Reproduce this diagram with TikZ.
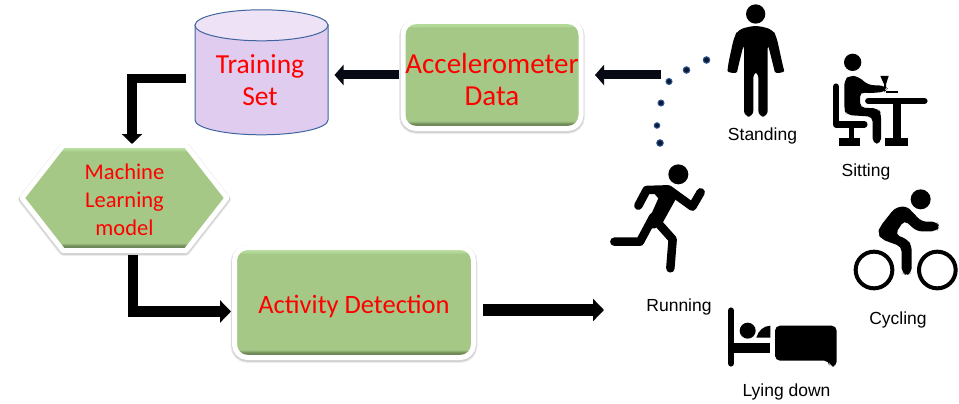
\documentclass[tikz,border=0pt]{standalone}
\usepackage{fontspec}
\setmainfont{Liberation Sans}
\newfontfamily\calib{Carlito}
\usetikzlibrary{arrows.meta,calc,shapes.symbols}
\definecolor{boxgreen}{HTML}{A5C887}
\definecolor{boxtop}{HTML}{B4DA9A}
\definecolor{boxbot}{HTML}{6F8A58}
\definecolor{cylbody}{HTML}{E0CCEE}
\definecolor{cyltop}{HTML}{EEE2F7}
\definecolor{cylline}{HTML}{3F65A0}
\definecolor{txtred}{HTML}{FF0000}
\definecolor{dotfill}{HTML}{0B1A33}
\definecolor{dotline}{HTML}{2F5597}
\definecolor{navyblack}{HTML}{070A14}
\pgfdeclareverticalshading{gbox}{100bp}{color(0bp)=(boxbot); color(27.2bp)=(boxbot); color(28.6bp)=(boxgreen); color(72.2bp)=(boxgreen); color(73bp)=(boxtop); color(100bp)=(boxtop)}
\tikzset{
  panel/.style={draw=white,line width=5pt,line join=round,shading=gbox,inner sep=0pt,outer sep=0pt,align=center,text=txtred,
    preaction={draw=black!7,line width=8pt,transform canvas={yshift=-1.5pt}},
    preaction={draw=black!18,line width=6.2pt,transform canvas={yshift=-1.2pt}}},
  rbox/.style={panel,rectangle,rounded corners=13pt},
  hexbox/.style={panel,signal,signal to=west and east,signal pointer angle=104,
     minimum width=205pt,minimum height=105pt},
  conn/.style={draw=black,line join=miter,-{Triangle[length=11pt,width=22pt]}},
  conndark/.style={draw=navyblack,line width=9pt,-{Triangle[length=9pt,width=20pt]}},
  dotmark/.style={circle,draw=dotline,fill=dotfill,line width=1pt,minimum size=6.5pt,inner sep=0pt},
  ico/.style={fill=black,draw=none},
  limb/.style={draw=black,line cap=round,line join=round,fill=none},
  lab/.style={font=\fontsize{17.5}{20}\selectfont,inner sep=0pt},
}
\begin{document}
\begin{tikzpicture}[x=1pt,y=-1pt]
\useasboundingbox (0,0) rectangle (959,404);
% cylinder
\fill[cylbody,draw=cylline,line width=1pt] (195,25) -- (195,120) arc[x radius=66.5,y radius=14.8,start angle=180,end angle=0] -- (328,25) -- cycle;
\fill[cyltop,draw=cylline,line width=1pt] (261.5,25.3) ellipse[x radius=66.5,y radius=15.5];
\node[align=center,text=txtred,font=\calib\fontsize{27.5}{31.5}\selectfont,minimum width=133pt,minimum height=110pt,inner sep=0pt,outer sep=0pt] (train) at (260,80) {Training\\Set};
% boxes
\node[rbox,minimum width=178pt,minimum height=107pt,font=\calib\fontsize{29}{32}\selectfont] (acc) at (492,75) {\rule{0pt}{29pt}Accelerometer\\Data};
\node[rbox,minimum width=239pt,minimum height=110pt,font=\calib\fontsize{26.5}{32}\selectfont] (act) at (354,302.5) {\rule{0pt}{26pt}Activity Detection};
\node[hexbox,font=\calib\fontsize{22.5}{28}\selectfont] (ml) at (124.5,198) {\rule{0pt}{18.6pt}Machine\\Learning\\model};
% connectors
\coordinate (dotEnd) at (661,75);
\coordinate (runIn) at (604,310);
\coordinate (mlTop) at (132,144);
\coordinate (mlBot) at (133,255);
\draw[conndark,shorten >=14pt] (dotEnd) -- (acc.east);
\draw[conndark,shorten >=8pt,shorten <=4pt] (acc.west) -- (train.east |- acc.west);
\draw[conn,line width=9.5pt,-{Triangle[length=10pt,width=20pt]}] ($(train.west)+(-7.5,-1.5)$) -| (mlTop);
\draw[conn,line width=10.5pt,shorten >=3.5pt] (mlBot) |- ($(act.west)+(0,9)$);
\draw[conn,line width=11.5pt] ($(act.east)+(9.5,7.5)$) -- (runIn);
% dots
\node[dotmark] (d1) at (706.5,60) {};
\node[dotmark] (d2) at (686.5,70) {};
\node[dotmark,minimum size=6pt] (d3) at (669,81.5) {};
\node[dotmark,minimum size=6pt] (d4) at (661,103) {};
\node[dotmark,minimum size=5.5pt] (d5) at (657,125.5) {};
\node[dotmark] (d6) at (660,143) {};
% standing
\begin{scope}[shift={(590,0)},scale=1/3]
 \fill[ico] (497,42) circle[radius=29];
 \fill[ico,rounded corners=6pt] (497,76) -- (445,88) -- (432,112) -- (414,195) .. controls (412,218) and (440,222) .. (445,198) -- (462,130) -- (462,350) -- (490,350) -- (490,215) -- (505,215) -- (505,350) -- (533,350) -- (533,130) -- (550,198) .. controls (556,222) and (584,218) .. (578,195) -- (560,112) -- (548,88) -- cycle;
\end{scope}
% sitting
\begin{scope}[shift={(825,45)},scale=1/3]
 \fill[ico] (83,52) circle[radius=26];
 \draw[limb,line width=6.5pt] (33,125) -- (33,238) -- (118,238);
 \fill[ico] (72,240) rectangle (88,290);
 \fill[ico] (42,280) rectangle (106,302);
 \fill[ico,rounded corners=5pt] (58,105) -- (75,91) -- (100,95) -- (130,120) -- (178,122) -- (188,131) -- (178,141) -- (125,145) -- (105,140) -- (105,188) -- (160,190) -- (168,205) -- (168,296) -- (143,296) -- (143,215) -- (65,210) -- (58,195) -- cycle;
 \draw[limb,line width=6.5pt] (130,168) -- (298,168);
 \fill[ico] (205,170) rectangle (228,285);
 \fill[ico] (180,280) rectangle (250,302);
 \fill[ico] (166,93) -- (191,93) -- (183,118) -- (183,131) -- (178,131) -- (177,118) -- cycle;
 \fill[ico] (182,139) rectangle (218,145);
\end{scope}
% running
\begin{scope}[shift={(605,160)},scale=1/3]
 \fill[ico] (220,43) circle[radius=30];
 \draw[limb,line width=8.5pt] (100,137) -- (125,90) -- (190,88) -- (262,140) -- (287,97);
 \fill[ico] (130,80) -- (195,78) -- (222,100) -- (172,190) -- (150,205) -- (120,205) -- (160,115) -- cycle;
 \draw[limb,line width=8.5pt] (160,190) -- (203,238) -- (196,325);
 \draw[limb,line width=8.5pt] (145,170) -- (105,245) -- (28,245);
\end{scope}
% cycling
\begin{scope}[shift={(850,185)},scale=1/3]
 \fill[ico] (212,43) circle[radius=30];
 \fill[ico,rounded corners=5pt] (135,68) -- (170,63) -- (215,110) -- (262,110) -- (268,125) -- (260,139) -- (200,139) -- (163,105) -- (135,148) -- (172,163) -- (185,182) -- (185,265) -- (170,270) -- (155,265) -- (155,185) -- (95,163) -- (83,145) -- (90,125) -- cycle;
 \draw[draw=black,line width=4pt] (72,255) circle[radius=55];
 \draw[draw=black,line width=4pt] (262,255) circle[radius=55];
\end{scope}
% bed
\begin{scope}[shift={(590,160)},scale=1/3]
 \draw[limb,line width=6.5pt] (423,452) -- (423,610);
 \fill[ico] (423,548) rectangle (541,578);
 \fill[ico] (473,512) circle[radius=24];
 \fill[ico] (499,533) .. controls (505,512) and (520,498) .. (541,497) -- (541,533) -- cycle;
 \fill[ico,rounded corners=5pt] (555,497) -- (740,497) -- (740,620) -- (718,620) -- (718,602) -- (555,602) -- cycle;
\end{scope}
% labels
\node[lab] (lstand) at (762.5,136) {Standing};
\node[lab] (lsit) at (866,172) {Sitting};
\node[lab] (lrun) at (679,307) {Running};
\node[lab] (lcyc) at (898,320) {Cycling};
\node[lab] (lbed) at (786.5,392) {Lying down};
\end{tikzpicture}
\end{document}
